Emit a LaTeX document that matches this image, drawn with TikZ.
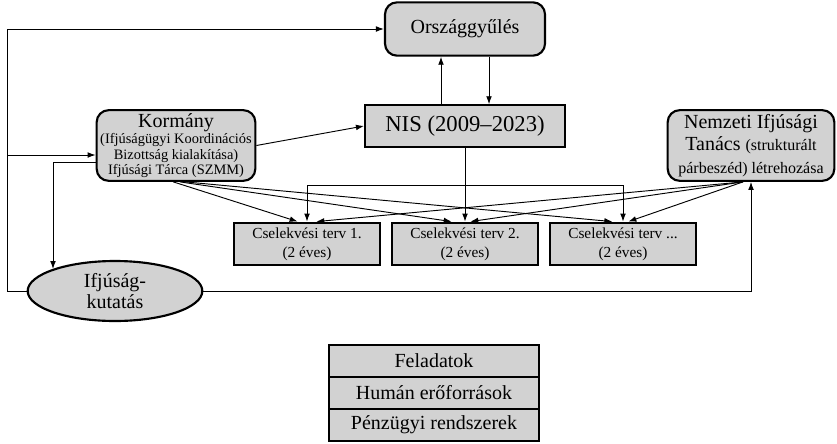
\documentclass[tikz,border=0pt]{standalone}
\usepackage{fontspec}
\setmainfont{Liberation Serif}
\usetikzlibrary{arrows.meta,shapes.geometric}
\definecolor{boxgray}{RGB}{210,210,210}
\newcommand{\bigtxt}{\fontsize{15}{17}\selectfont}
\newcommand{\smtxt}{\fontsize{10.8}{11.4}\selectfont}
\newcommand{\cstxt}{\fontsize{11.5}{14}\selectfont}
\tikzset{
  rbox/.style={draw, line width=1.6pt, fill=boxgray, rounded corners=9pt, align=center, inner sep=0pt},
  sbox/.style={draw, line width=1.6pt, fill=boxgray, align=center, inner sep=0pt},
  arr/.style={-{Latex[length=6pt,width=4.3pt]}, line width=0.7pt}
}

\begin{document}
\begin{tikzpicture}[x=0.75pt,y=0.75pt,yscale=-1,xscale=1]
        \useasboundingbox (0,0) rectangle (837,443);
        
        % Text Node
        \node[rbox, minimum width=120pt, minimum height=40pt, font=\bigtxt] (orszag) at (465,29) {Országgyűlés};
        % Text Node
        \node[sbox, minimum width=150pt, minimum height=31pt, font=\fontsize{17}{19}\selectfont] (nis) at (465,126) {NIS (2009–2023)};
        % Text Node
        \node[rbox, minimum width=119pt, minimum height=53pt, font=\smtxt] (korm) at (176,145.5) {{\bigtxt Kormány}\\[1pt] (Ifjúságügyi Koordinációs\\ Bizottság kialakítása)\\ Ifjúsági Tárca (SZMM)};
        % Text Node
        \node[rbox, minimum width=125pt, minimum height=53pt, font=\bigtxt] (nemz) at (751,145.5) {Nemzeti Ifjúsági\\ Tanács {\fontsize{12}{13}\selectfont (strukturált}\\ {\fontsize{12}{13}\selectfont párbeszéd) létrehozása}};
        % Text Node
        \node[sbox, minimum width=109pt, minimum height=32pt, font=\cstxt] (cs1) at (307,244) {Cselekvési terv 1.\\ (2 éves)};
        % Text Node
        \node[sbox, minimum width=109pt, minimum height=32pt, font=\cstxt] (cs2) at (465,244) {Cselekvési terv 2.\\ (2 éves)};
        % Text Node
        \node[sbox, minimum width=109pt, minimum height=32pt, font=\cstxt] (cs3) at (623,244) {Cselekvési terv ...\\ (2 éves)};
        % Shape: Ellipse
        \node[ellipse, draw, line width=1.6pt, fill=boxgray, minimum width=131pt, minimum height=45pt, inner sep=0pt, align=center, font=\bigtxt] (ifjk) at (115,291) {Ifjúság-\\[-1pt]kutatás};
        
        % Legend
        \node[sbox, minimum width=157.5pt, minimum height=24pt, font=\bigtxt] (leg1) at (434,361) {Feladatok};
        \node[sbox, minimum width=157.5pt, minimum height=24pt, font=\bigtxt] (leg2) at (434,393) {Humán erőforrások};
        \node[sbox, minimum width=157.5pt, minimum height=24pt, font=\bigtxt] (leg3) at (434,425) {Pénzügyi rendszerek};
        
        \coordinate (tl) at (7,29);
        \coordinate (bl) at (7,291);
        \coordinate (kl) at (7,155);
        \coordinate (kb) at (53,162);
        \coordinate (br) at (465,185);
        
        %Straight Lines
        \draw[arr] (ifjk.west) -- (bl) -- (tl) -- (orszag.west);
        \draw[arr] (kl) -- (kl -| korm.west);
        \draw[arr] (kb -| korm.west) -- (kb) -- (kb |- ifjk.north west);
        \draw[arr] (ifjk.east) -- (ifjk.east -| nemz.south) -- (nemz.south);
        \draw[arr] (korm.east) -- (nis.west);
        \draw[arr] ([xshift=-18pt]nis.north) -- ([xshift=-18pt]orszag.south);
        \draw[arr] ([xshift=18pt]orszag.south) -- ([xshift=18pt]nis.north);
        \draw[arr] (nis.south) -- (cs2.north);
        \draw[arr] (br -| cs1.north) -- (br -| cs3.north) -- (cs3.north);
        \draw[arr] (br -| cs1.north) -- (cs1.north);
        %Straight Lines to the plans
        \foreach \cs/\ks/\dk/\dn in {cs1/-2/-7/7, cs2/3/-10/4, cs3/7/-8/4} {
          \draw[arr] ([xshift=\ks pt]korm.south) -- ([xshift=\dk pt]\cs.north);
          \draw[arr] ([xshift=-6pt]nemz.south) -- ([xshift=\dn pt]\cs.north);
        }
        
\end{tikzpicture}
\end{document}
